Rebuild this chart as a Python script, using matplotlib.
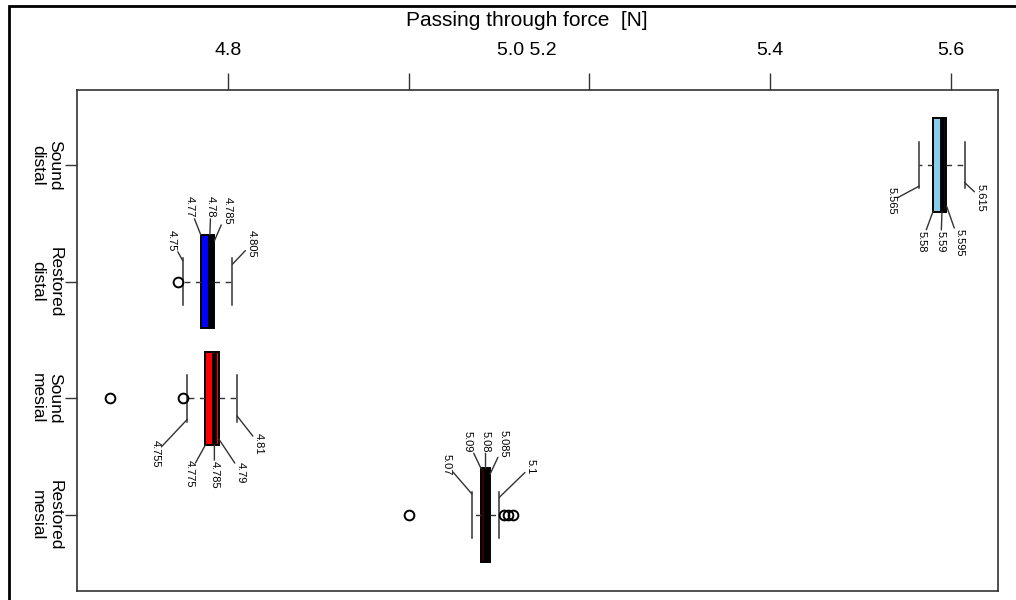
import matplotlib
matplotlib.use("Agg")
import matplotlib.pyplot as plt
from matplotlib.patches import Rectangle

plt.rcParams['font.family'] = ['Liberation Sans', 'DejaVu Sans']

# Groups from bottom (position 1) to top (position 4)
groups = ['Restored\nmesial', 'Sound\nmesial', 'Restored\ndistal', 'Sound\ndistal']
box_colors = ['#3a0000', '#ff0000', '#0000ff', '#87ceeb']

whislo = [5.07, 4.755, 4.75, 5.565]
q1 = [5.08, 4.775, 4.77, 5.58]
med = [5.085, 4.785, 4.78, 5.59]
q3 = [5.09, 4.79, 4.785, 5.595]
whishi = [5.10, 4.81, 4.805, 5.615]
fliers = [[5.0, 5.105, 5.11, 5.115], [4.67, 4.75], [4.745], []]

# value labels as printed next to each box (whislo, q1, med, q3, whishi)
value_labels = [
    ['5.07', '5.09', '5.08', '5.085', '5.1'],
    ['4.755', '4.775', '4.785', '4.79', '4.81'],
    ['4.75', '4.77', '4.78', '4.785', '4.805'],
    ['5.565', '5.58', '5.59', '5.595', '5.615'],
]

x_ticks = [4.8, 5.0, 5.2, 5.4, 5.6]
x_ticklabels = ['4.8', '', '', '5.4', '5.6']

# label placement (pixels) relative to anchor points
side = [1, -1, 1, -1]
anchor_frac = [0.18, 0.4, 0.4, 0.35, 0.15]
offsets = [
    [(-25, 29), (-13, 27), (0, 27), (14, 30), (32, 31)],
    [(-32, -34), (-16, -29), (0, -30), (22, -33), (22, -28)],
    [(-11, 20), (-11, 28), (1, 28), (13, 30), (19, 20)],
    [(-28, -15), (-11, -30), (-1, -30), (13, -37), (16, -15)],
]

W, H = 1016, 600
fig = plt.figure(figsize=(W / 100, H / 100), dpi=100)
ax = fig.add_axes([77 / W, 1 - 591 / H, (998 - 77) / W, (591 - 90) / H])

stats = []
for i in range(len(groups)):
    stats.append(dict(whislo=whislo[i], q1=q1[i], med=med[i], q3=q3[i],
                      whishi=whishi[i], fliers=fliers[i]))

positions = [1, 2, 3, 4]
res = ax.bxp(stats, positions=positions, widths=0.8, capwidths=0.4,
             orientation='horizontal', patch_artist=True, manage_ticks=False,
             boxprops=dict(edgecolor='black', linewidth=1.4),
             medianprops=dict(color='black', linewidth=3.5, solid_capstyle='butt'),
             whiskerprops=dict(color='#333333', linewidth=1, linestyle=(0, (4, 4))),
             capprops=dict(color='#333333', linewidth=1.1),
             flierprops=dict(marker='o', markerfacecolor='none', markeredgecolor='black',
                             markersize=7, markeredgewidth=1.4))
for patch, c in zip(res['boxes'], box_colors):
    patch.set_facecolor(c)

# value labels with leader lines
for i, pos in enumerate(positions):
    vals = [whislo[i], q1[i], med[i], q3[i], whishi[i]]
    for j in range(5):
        ay = pos + side[i] * anchor_frac[j]
        ax.annotate(value_labels[i][j], xy=(vals[j], ay), xytext=offsets[i][j],
                    textcoords='offset pixels', rotation=270, ha='center', va='center',
                    fontsize=8,
                    bbox=dict(boxstyle='square,pad=0.1', fc='none', ec='none'),
                    arrowprops=dict(arrowstyle='-', color='#333333', lw=1,
                                    shrinkA=0, shrinkB=0))

ax.set_xlim(4.633, 5.652)
ax.set_ylim(0.349, 4.643)

ax.xaxis.tick_top()
ax.set_xticks(x_ticks, x_ticklabels)
ax.set_xticks([5.131], ['5.0 5.2'], minor=True)
ax.tick_params(axis='x', which='major', length=12, width=1, pad=10, labelsize=14, color='#333333')
ax.tick_params(axis='x', which='minor', length=0, pad=22, labelsize=14)

ax.set_yticks(positions, groups)
ax.tick_params(axis='y', length=9, width=1, pad=1.5, labelsize=12.5, color='#333333')
for lab in ax.get_yticklabels():
    lab.set_rotation(270)
    lab.set_verticalalignment('center')
    lab.set_multialignment('center')

for sp in ax.spines.values():
    sp.set_color('#333333')
    sp.set_linewidth(1.2)

fig.text(527 / W, 1 - 20 / H, 'Passing through force  [N]', ha='center', va='center', fontsize=15)

# outer frame
fig.add_artist(Rectangle((9 / W, -0.1), 1.2, 1.1 - 6 / H, transform=fig.transFigure,
                         fill=False, linewidth=2, edgecolor='black'))

fig.savefig('out.png', dpi=100)
